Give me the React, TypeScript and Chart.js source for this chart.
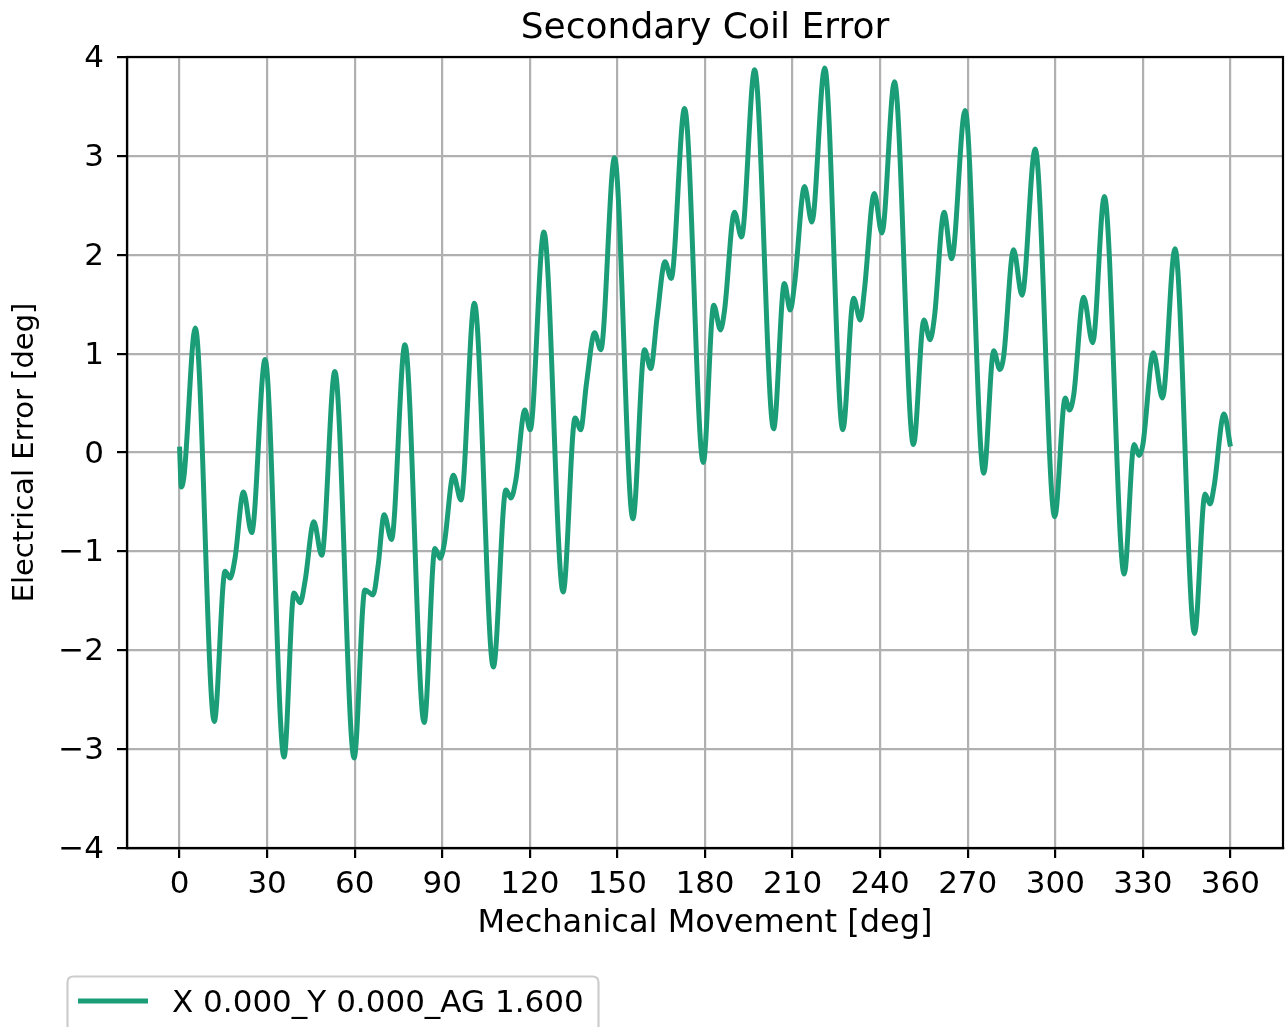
import { useEffect, useRef } from 'react';
import { Chart, registerables } from 'chart.js';

Chart.register(...registerables);

const chartTitle = 'Secondary Coil Error';
const xAxisTitle = 'Mechanical Movement [deg]';
const yAxisTitle = 'Electrical Error [deg]';
const seriesLabel = 'X 0.000_Y 0.000_AG 1.600';
const seriesColor = '#1b9e77';

const xTickValues = [0, 30, 60, 90, 120, 150, 180, 210, 240, 270, 300, 330, 360];
const yTickValues = [-4, -3, -2, -1, 0, 1, 2, 3, 4];

const mechanicalDeg = [
  0, 0.6, 1.6, 5.4, 11.9,
  15.6, 17.3, 19.0, 21.9, 24.7, 29.3, 35.8,
  39.2, 41.3, 43.0, 46.0, 48.7, 53.2, 59.8,
  63.5, 66.3, 68.0, 70.1, 72.6, 77.2, 83.8,
  87.5, 89.3, 90.7, 93.8, 96.4, 101.0, 107.5,
  111.8, 113.5, 115.2, 118.3, 120.1, 124.8, 131.4,
  135.5, 137.4, 139.4, 142.2, 144.3, 149.0, 155.3,
  159.3, 161.4, 163.6, 166.3, 168.4, 173.0, 179.4,
  183.0, 185.3, 186.7, 190.1, 192.5, 197.0, 203.5,
  207.2, 209.2, 210.7, 214.1, 216.6, 221.0, 227.2,
  230.9, 233.2, 234.6, 238.0, 240.6, 244.9, 251.4,
  255.0, 257.1, 258.6, 261.9, 264.5, 269.1, 275.5,
  278.9, 281.0, 282.3, 285.7, 288.6, 293.1, 299.8,
  303.4, 304.8, 306.3, 309.7, 312.8, 316.8, 323.6,
  327.0, 328.7, 330.0, 333.6, 336.7, 341.0, 347.7,
  351.3, 353.0, 354.4, 357.8, 360.0,
];

const electricalErr = [
  0.06, -0.35, -0.22, 1.26, -2.72,
  -1.20, -1.27, -1.07, -0.40, -0.81, 0.94, -3.08,
  -1.42, -1.52, -1.30, -0.70, -1.04, 0.82, -3.09,
  -1.39, -1.44, -1.15, -0.63, -0.88, 1.09, -2.73,
  -0.97, -1.07, -0.92, -0.23, -0.48, 1.51, -2.17,
  -0.38, -0.46, -0.28, 0.43, 0.23, 2.23, -1.41,
  0.35, 0.23, 0.70, 1.21, 1.04, 2.98, -0.67,
  1.04, 0.85, 1.37, 1.93, 1.76, 3.48, -0.10,
  1.49, 1.24, 1.44, 2.43, 2.18, 3.87, 0.24,
  1.71, 1.44, 1.71, 2.69, 2.33, 3.89, 0.23,
  1.56, 1.34, 1.64, 2.62, 2.22, 3.75, 0.08,
  1.34, 1.14, 1.37, 2.43, 1.96, 3.46, -0.21,
  1.03, 0.84, 0.97, 2.05, 1.59, 3.07, -0.65,
  0.55, 0.43, 0.58, 1.57, 1.11, 2.59, -1.23,
  0.08, -0.03, 0.08, 1.01, 0.55, 2.06, -1.83,
  -0.42, -0.52, -0.34, 0.39, 0.06,
];

const FONT = "'DejaVu Sans', 'Noto Sans', sans-serif";

const decorPlugin = {
  id: 'decor',
  afterDraw(chart: any) {
    const { ctx, chartArea: a } = chart;
    ctx.save();
    // axes frame
    ctx.strokeStyle = '#000';
    ctx.lineWidth = 2.2;
    ctx.strokeRect(a.left, a.top, a.right - a.left, a.bottom - a.top);
    // title
    ctx.fillStyle = '#000';
    ctx.font = `36px ${FONT}`;
    ctx.textAlign = 'center';
    ctx.textBaseline = 'alphabetic';
    ctx.fillText(chartTitle, (a.left + a.right) / 2, 38);
    // legend
    const lx = 67.5, ly = 976.5, lw = 531, lh = 80, r = 6;
    ctx.beginPath();
    ctx.moveTo(lx + r, ly);
    ctx.lineTo(lx + lw - r, ly);
    ctx.quadraticCurveTo(lx + lw, ly, lx + lw, ly + r);
    ctx.lineTo(lx + lw, ly + lh);
    ctx.lineTo(lx, ly + lh);
    ctx.lineTo(lx, ly + r);
    ctx.quadraticCurveTo(lx, ly, lx + r, ly);
    ctx.closePath();
    ctx.fillStyle = 'rgba(255,255,255,0.8)';
    ctx.fill();
    ctx.strokeStyle = '#cccccc';
    ctx.lineWidth = 2.2;
    ctx.stroke();
    ctx.beginPath();
    ctx.moveTo(78, 1001);
    ctx.lineTo(148, 1001);
    ctx.strokeStyle = seriesColor;
    ctx.lineWidth = 5;
    ctx.stroke();
    ctx.fillStyle = '#000';
    ctx.font = `31px ${FONT}`;
    ctx.textAlign = 'left';
    ctx.fillText(seriesLabel, 172, 1012);
    ctx.restore();
  },
};

export default function App() {
  const ref = useRef<HTMLCanvasElement>(null);

  useEffect(() => {
    const canvas = ref.current!;
    const points = mechanicalDeg.map((x, i) => ({ x, y: electricalErr[i] }));
    const chart = new Chart(canvas, {
      type: 'line',
      data: {
        datasets: [
          {
            label: seriesLabel,
            data: points,
            borderColor: seriesColor,
            backgroundColor: seriesColor,
            borderWidth: 5,
            pointRadius: 0,
            cubicInterpolationMode: 'monotone',
            fill: false,
          },
        ],
      },
      options: {
        responsive: false,
        animation: false,
        devicePixelRatio: 1,
        layout: { padding: { top: 57, right: 2, bottom: 79, left: 0 } },
        plugins: {
          legend: { display: false },
          title: { display: false },
          tooltip: { enabled: false },
        },
        scales: {
          x: {
            type: 'linear',
            min: -18,
            max: 378,
            afterBuildTicks: (s: any) => {
              s.ticks = xTickValues.map((v) => ({ value: v }));
            },
            afterFit: (s: any) => {
              s.height = 100;
            },
            grid: {
              color: '#b0b0b0',
              lineWidth: 2.2,
              tickColor: '#000',
              tickLength: 10,
              tickWidth: 2.2,
            },
            border: { display: true, color: '#000', width: 2.2 },
            ticks: {
              autoSkip: false,
              maxRotation: 0,
              minRotation: 0,
              padding: 8,
              color: '#000',
              font: { family: FONT, size: 31 },
            },
            title: {
              display: true,
              text: xAxisTitle,
              color: '#000',
              font: { family: FONT, size: 32 },
              padding: { top: 0, bottom: 5 },
            },
          },
          y: {
            type: 'linear',
            min: -4,
            max: 4,
            afterBuildTicks: (s: any) => {
              s.ticks = yTickValues.map((v) => ({ value: v }));
            },
            afterFit: (s: any) => {
              s.width = 127;
            },
            grid: {
              color: '#b0b0b0',
              lineWidth: 2.2,
              tickColor: '#000',
              tickLength: 10,
              tickWidth: 2.2,
            },
            border: { display: true, color: '#000', width: 2.2 },
            ticks: {
              padding: 13,
              labelOffset: 2,
              color: '#000',
              font: { family: FONT, size: 31 },
              callback: (v: any) => String(v).replace('-', '\u2212'),
            },
            title: {
              display: true,
              text: yAxisTitle,
              color: '#000',
              font: { family: FONT, size: 29 },
              padding: { top: 8, bottom: 0 },
            },
          },
        },
      },
      plugins: [decorPlugin],
    });
    return () => chart.destroy();
  }, []);

  return (
    <div style={{ position: 'absolute', left: 0, top: 0, width: 1285, height: 1027, background: '#fff' }}>
      <canvas ref={ref} width={1285} height={1027} style={{ width: 1285, height: 1027, display: 'block' }} />
    </div>
  );
}
